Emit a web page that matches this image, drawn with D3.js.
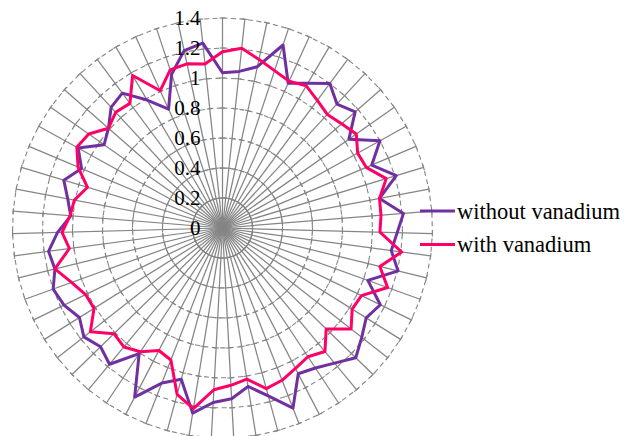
<!DOCTYPE html>
<html>
<head>
<meta charset="utf-8">
<script src="https://cdn.jsdelivr.net/npm/d3@7"></script>
<style>
  html, body { margin: 0; padding: 0; background: #ffffff; }
  svg { display: block; }
</style>
</head>
<body>
<svg id="chart" width="633" height="436"></svg>
<script>
// 59 measurement directions around the radar
const categories = [
  1, 2, 3, 4, 5, 6, 7, 8, 9, 10, 11, 12, 13, 14, 15, 16, 17, 18, 19, 20,
  21, 22, 23, 24, 25, 26, 27, 28, 29, 30, 31, 32, 33, 34, 35, 36, 37, 38, 39, 40,
  41, 42, 43, 44, 45, 46, 47, 48, 49, 50, 51, 52, 53, 54, 55, 56, 57, 58, 59
];

const withoutVanadium = [
  1.035, 1.05, 1.10, 1.285, 1.06, 1.12, 1.20, 1.125, 1.175, 1.03,
  1.20, 1.08, 1.21, 1.065, 1.21, 1.165, 1.135, 1.205, 1.03, 1.17,
  1.13, 1.18, 1.24, 1.17, 1.12, 1.095, 1.29, 1.16, 1.07, 1.14,
  1.165, 1.25, 1.045, 1.11, 1.27, 1.005, 1.18, 1.135, 1.175, 1.125,
  1.175, 1.20, 1.15, 1.17, 1.10, 1.015, 1.05, 1.105, 1.02, 1.10,
  0.965, 1.01, 1.095, 1.12, 0.99, 0.87, 1.08, 1.21, 1.24
];

const withVanadium = [
  1.175, 1.205, 1.15, 1.105, 1.075, 1.10, 1.06, 1.03, 1.055, 1.09,
  1.03, 1.04, 1.14, 1.065, 1.06, 1.05, 1.205, 1.08, 1.17, 1.03,
  1.02, 1.09, 0.965, 1.07, 1.03, 1.055, 1.09, 1.11, 1.02, 1.05,
  1.08, 1.22, 1.15, 0.945, 0.92, 0.99, 1.03, 1.01, 1.12, 1.01,
  1.015, 1.07, 1.15, 1.03, 1.07, 1.02, 1.005, 0.94, 1.045, 1.11,
  1.09, 1.01, 1.05, 1.035, 1.18, 1.005, 1.11, 1.12, 1.10
];

const tickValues = [0, 0.2, 0.4, 0.6, 0.8, 1.0, 1.2, 1.4];
const tickLabels = ["0", "0.2", "0.4", "0.6", "0.8", "1", "1.2", "1.4"];

const seriesNames = ["without vanadium", "with vanadium"];
const seriesColors = ["#7030a0", "#ff0066"];

// ---- layout ----
const svg = d3.select("#chart");
const cx = 222.5, cy = 228, outerR = 210;
const gridColor = "#858585";
const font = "'Liberation Serif', 'Times New Roman', serif";

const r = d3.scaleLinear().domain([0, 1.4]).range([0, outerR]);
const angle = d3.scaleLinear().domain([0, categories.length]).range([0, 2 * Math.PI]);

const g = svg.append("g").attr("transform", `translate(${cx},${cy})`);

// dashed ring gridlines, one polygon per major value
const ringLine = d3.lineRadial()
  .angle((d, i) => angle(i))
  .curve(d3.curveLinearClosed);

g.append("g").selectAll("path")
  .data(tickValues.filter(v => v > 0))
  .join("path")
  .attr("d", v => ringLine.radius(() => r(v))(categories))
  .attr("fill", "none")
  .attr("stroke", gridColor)
  .attr("stroke-width", 1.1)
  .attr("stroke-dasharray", "5,3.5");

// spokes
g.append("g").selectAll("line")
  .data(categories)
  .join("line")
  .attr("x1", 0).attr("y1", 0)
  .attr("x2", (d, i) => d3.pointRadial(angle(i), r(1.4))[0])
  .attr("y2", (d, i) => d3.pointRadial(angle(i), r(1.4))[1])
  .attr("stroke", gridColor)
  .attr("stroke-width", 1.25);

// tick marks crossing every spoke at each major value
const tickData = [];
categories.forEach((c, i) => {
  tickValues.filter(v => v > 0).forEach(v => tickData.push({ a: angle(i), v }));
});
const tickHalf = 3;
g.append("g").selectAll("line")
  .data(tickData)
  .join("line")
  .each(function (d) {
    const [px, py] = d3.pointRadial(d.a, r(d.v));
    const ux = Math.cos(d.a), uy = Math.sin(d.a);
    d3.select(this)
      .attr("x1", px - ux * tickHalf).attr("y1", py - uy * tickHalf)
      .attr("x2", px + ux * tickHalf).attr("y2", py + uy * tickHalf);
  })
  .attr("stroke", gridColor)
  .attr("stroke-width", 1.1);

// data series
const seriesLine = d3.lineRadial()
  .angle((d, i) => angle(i))
  .radius(d => r(d))
  .curve(d3.curveLinearClosed);

[withoutVanadium, withVanadium].forEach((values, s) => {
  g.append("path")
    .attr("d", seriesLine(values))
    .attr("fill", "none")
    .attr("stroke", seriesColors[s])
    .attr("stroke-width", 3)
    .attr("stroke-linejoin", "round");
});

// value axis labels beside the vertical spoke
g.append("g").selectAll("text")
  .data(tickValues)
  .join("text")
  .attr("x", -22)
  .attr("y", v => -r(v))
  .attr("dy", "0.35em")
  .attr("text-anchor", "end")
  .attr("font-family", font)
  .attr("font-size", 21)
  .attr("fill", "#000")
  .text((v, i) => tickLabels[i]);

// legend
const legend = svg.append("g").attr("transform", "translate(420,211)");
seriesNames.forEach((name, s) => {
  const row = legend.append("g").attr("transform", `translate(0,${s * 33.5})`);
  row.append("line")
    .attr("x1", 0).attr("x2", 35)
    .attr("y1", 0).attr("y2", 0)
    .attr("stroke", seriesColors[s])
    .attr("stroke-width", 3);
  row.append("text")
    .attr("x", 37)
    .attr("y", 7.5)
    .attr("font-family", font)
    .attr("font-size", 22.5)
    .attr("fill", "#000")
    .text(name);
});
</script>
</body>
</html>
